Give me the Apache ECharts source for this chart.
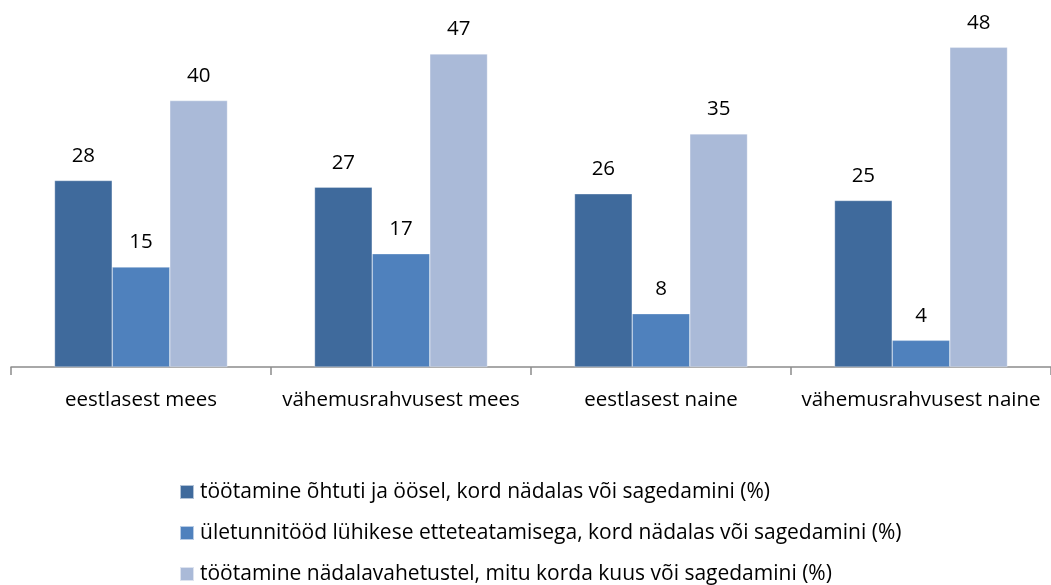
<!DOCTYPE html>
<html>
<head>
<meta charset="utf-8">
<script src="https://cdn.jsdelivr.net/npm/echarts@6/dist/echarts.min.js"></script>
<style>
  html, body { margin: 0; padding: 0; background: #fff; }
  #chart { width: 1051px; height: 585px; }
</style>
</head>
<body>
<div id="chart"></div>
<script>
const categories = ['eestlasest mees', 'vähemusrahvusest mees', 'eestlasest naine', 'vähemusrahvusest naine']
const seriesNames = [
  'töötamine õhtuti ja öösel, kord nädalas või sagedamini (%)',
  'ületunnitööd lühikese etteteatamisega, kord nädalas või sagedamini (%)',
  'töötamine nädalavahetustel, mitu korda kuus või sagedamini (%)',
]
const eveningNight = [28, 27, 26, 25]
const overtime = [15, 17, 8, 4]
const weekends = [40, 47, 35, 48]
const colors = ['#3F6A9C', '#4F81BD', '#AABAD8']

const font = '"Open Sans", "Noto Sans", sans-serif'
const chart = echarts.init(document.getElementById('chart'))

const values = [eveningNight, overtime, weekends]

chart.setOption({
  animation: false,
  textStyle: { fontFamily: font },
  grid: { left: 11, top: 34, width: 1046, bottom: 218, containLabel: false },
  legend: {
    orient: 'vertical',
    left: 174,
    top: 474,
    width: 870,
    height: 115,
    itemWidth: 14,
    itemHeight: 14,
    itemGap: 15,
    icon: 'rect',
    textStyle: { fontSize: 21, color: '#000', fontFamily: font, padding: [0, 0, 0, 1], lineHeight: 26 },
    data: seriesNames,
  },
  xAxis: {
    type: 'category',
    data: categories,
    axisLine: { lineStyle: { color: '#8c8c8c', width: 1.5 } },
    axisTick: { show: true, interval: 0, length: 8, lineStyle: { color: '#8c8c8c', width: 1.5 } },
    axisLabel: { interval: 0, fontSize: 20.5, color: '#000', margin: 23, fontFamily: font },
  },
  yAxis: {
    type: 'value',
    min: 0,
    max: 50,
    show: false,
  },
  series: seriesNames.map((name, i) => ({
    name,
    type: 'bar',
    data: values[i],
    barGap: '0%',
    barCategoryGap: '33.5%',
    itemStyle: { color: colors[i], borderColor: 'rgba(255,255,255,0.6)', borderWidth: 0.5 },
    label: {
      show: true,
      position: 'top',
      distance: 14,
      fontSize: 20.5,
      color: '#000',
      fontFamily: font,
    },
  })),
})
</script>
</body>
</html>
